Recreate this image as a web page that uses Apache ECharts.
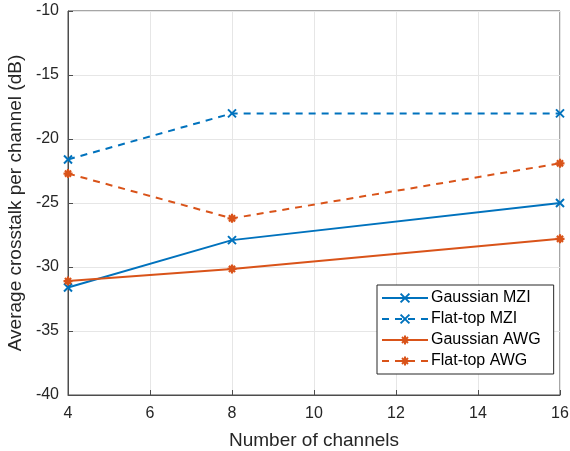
<!DOCTYPE html>
<html>
<head>
<meta charset="utf-8">
<script src="https://cdn.jsdelivr.net/npm/echarts@6/dist/echarts.min.js"></script>
<style>
  html, body { margin: 0; padding: 0; background: #fff; }
  #chart { width: 570px; height: 451px; }
</style>
</head>
<body>
<div id="chart"></div>
<script>
// Crosstalk versus channel count
const channels = [4, 8, 16];
const gaussianMZI = [-31.6, -27.9, -25.0];
const flatTopMZI = [-21.6, -18.0, -18.0];
const gaussianAWG = [-31.1, -30.15, -27.8];
const flatTopAWG = [-22.7, -26.2, -21.9];
const xTicks = { min: 4, max: 16, step: 2 };
const yTicks = { min: -40, max: -10, step: 5 };

const blue = '#0072BD';
const orange = '#D95319';
const axisColor = '#4d4d4d';
const textColor = '#262626';
const font = 'Liberation Sans, Arial, Helvetica, sans-serif';

const crossPath = 'path://M0,0L10,10M10,0L0,10';
const starPath = 'path://M5,0L5,10M0,5L10,5M1.6,1.6L8.4,8.4M8.4,1.6L1.6,8.4';

function pairs(vals) { return channels.map((c, i) => [c, vals[i]]); }

function makeSeries(name, vals, color, dashed, symbol) {
  return {
    name: name,
    type: 'line',
    data: pairs(vals),
    symbol: symbol,
    symbolSize: symbol === crossPath ? 8 : 9,
    showAllSymbol: true,
    lineStyle: { color: color, width: 2, type: dashed ? [7, 6] : 'solid' },
    itemStyle: { color: color, borderColor: color, borderWidth: symbol === crossPath ? 2 : 2.2 },
    emphasis: { disabled: true },
    animation: false
  };
}

const chart = echarts.init(document.getElementById('chart'), null, { renderer: 'canvas' });

const splitLine = { show: true, lineStyle: { color: '#e6e6e6', width: 1 } };

chart.setOption({
  backgroundColor: '#fff',
  animation: false,
  grid: {
    left: 68, top: 11, right: 10, bottom: 56,
    containLabel: false,
    outerBoundsMode: 'none',
    show: true, borderColor: axisColor, borderWidth: 1, backgroundColor: 'transparent'
  },
  xAxis: {
    type: 'value',
    min: xTicks.min, max: xTicks.max, interval: xTicks.step,
    name: 'Number of channels',
    nameLocation: 'middle', nameGap: 36,
    nameTextStyle: { fontFamily: font, fontSize: 19, color: textColor },
    axisLine: { show: true, lineStyle: { color: axisColor, width: 1 } },
    axisTick: { show: true, inside: true, length: 5, lineStyle: { color: axisColor } },
    axisLabel: { fontFamily: font, fontSize: 16, color: textColor, margin: 11 },
    splitLine: splitLine
  },
  yAxis: {
    type: 'value',
    min: yTicks.min, max: yTicks.max, interval: yTicks.step,
    name: 'Average crosstalk per channel (dB)',
    nameLocation: 'middle', nameGap: 40,
    nameTextStyle: { fontFamily: font, fontSize: 19, color: textColor },
    axisLine: { show: true, lineStyle: { color: axisColor, width: 1 } },
    axisTick: { show: true, inside: true, length: 5, lineStyle: { color: axisColor } },
    axisLabel: { fontFamily: font, fontSize: 16, color: textColor, margin: 9 },
    splitLine: splitLine
  },
  legend: {
    left: 377, top: 285,
    orient: 'vertical',
    padding: [5, 13, 5, 4],
    itemGap: 5,
    itemWidth: 46, itemHeight: 11,
    backgroundColor: '#fff',
    borderColor: '#262626', borderWidth: 1, borderRadius: 0,
    textStyle: { fontFamily: font, fontSize: 16, color: '#000', padding: [0, 0, 0, -2] },
    data: ['Gaussian MZI', 'Flat-top MZI', 'Gaussian AWG', 'Flat-top AWG']
  },
  series: [
    makeSeries('Gaussian MZI', gaussianMZI, blue, false, crossPath),
    makeSeries('Flat-top MZI', flatTopMZI, blue, true, crossPath),
    makeSeries('Gaussian AWG', gaussianAWG, orange, false, starPath),
    makeSeries('Flat-top AWG', flatTopAWG, orange, true, starPath)
  ]
});
</script>
</body>
</html>
